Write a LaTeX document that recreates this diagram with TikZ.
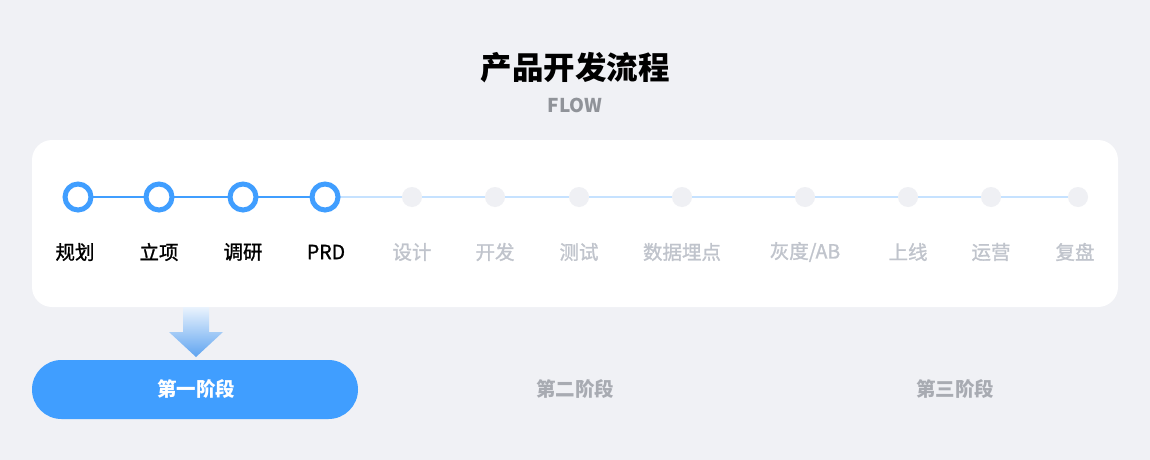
\documentclass[tikz,border=0pt]{standalone}
\usepackage{fontspec}
\setmainfont{Noto Sans CJK SC}
\newfontfamily\medfont[FakeBold=1.2]{Noto Sans CJK SC}
\usetikzlibrary{shadings}
\definecolor{bg}{HTML}{F0F1F5}
\definecolor{primary}{HTML}{409EFF}
\definecolor{lightline}{HTML}{C6E2FF}
\definecolor{dotgray}{HTML}{EFF0F4}
\definecolor{labgray}{HTML}{C0C4CC}
\definecolor{subgray}{HTML}{909399}
\definecolor{stagegray}{HTML}{A8ABB2}
\definecolor{arrtop}{HTML}{EAF3FD}
\definecolor{arrbot}{HTML}{5FA4F0}
\tikzset{
  active/.style={circle,draw=primary,line width=5pt,fill=white,minimum size=26pt,inner sep=0pt},
  idle/.style={circle,fill=dotgray,minimum size=20pt,inner sep=0pt},
  lab/.style={font=\medfont\fontsize{19.5}{21}\selectfont,anchor=center},
  labon/.style={lab,text=black},
  laboff/.style={lab,text=labgray},
  stagetxt/.style={font=\bfseries\fontsize{19.5}{21}\selectfont},
}
\begin{document}
\begin{tikzpicture}[x=1pt,y=-1pt]
\useasboundingbox (0,0) rectangle (1150,460);
\fill[bg] (0,0) rectangle (1150,460);
\node[font=\bfseries\fontsize{31.5}{33}\selectfont] (title) at (575,68) {产品开发流程};
\node[font=\bfseries\fontsize{19}{21}\selectfont,text=subgray] (sub) at (575,105) {FLOW};
\fill[white,rounded corners=20pt] (32,140) rectangle (1118,307);
% dots
\foreach \n/\x in {a1/78,a2/159,a3/243,a4/325}{\coordinate (\n) at (\x,197);}
\foreach \n/\x in {b1/412,b2/495,b3/579,b4/682,b5/805,b6/908,b7/991,b8/1078}{\coordinate (\n) at (\x,197);}
\draw[lightline,line width=2pt] (a4) -- (b8);
\draw[primary,line width=2pt] (a1) -- (a4);
\foreach \n in {a1,a2,a3,a4}{\node[active] (n\n) at (\n) {};}
\foreach \n in {b1,b2,b3,b4,b5,b6,b7,b8}{\node[idle] (n\n) at (\n) {};}
% labels
\node[labon] (l1) at (75,252) {规划};
\node[labon] (l2) at (159,252) {立项};
\node[labon] (l3) at (243,252) {调研};
\node[labon] (l4) at (326,252) {PRD};
\node[laboff] (l5) at (412,252) {设计};
\node[laboff] (l6) at (495,252) {开发};
\node[laboff] (l7) at (579,252) {测试};
\node[laboff] (l8) at (682,252) {数据埋点};
\node[laboff] (l9) at (805,252) {灰度/AB};
\node[laboff] (l10) at (908,252) {上线};
\node[laboff] (l11) at (991,252) {运营};
\node[laboff] (l12) at (1075,252) {复盘};
% arrow
\shade[top color=arrtop,bottom color=arrbot]
  (183,307) -- (209,307) -- (209,332) -- (223,332) -- (196,357) -- (169,332) -- (183,332) -- cycle;
% stages
\fill[primary,rounded corners=29.5pt] (32,360) rectangle (358,419);
\node[stagetxt,text=white] (s1) at (196,389) {第一阶段};
\node[stagetxt,text=stagegray] (s2) at (575,389) {第二阶段};
\node[stagetxt,text=stagegray] (s3) at (955,389) {第三阶段};
\end{tikzpicture}
\end{document}
